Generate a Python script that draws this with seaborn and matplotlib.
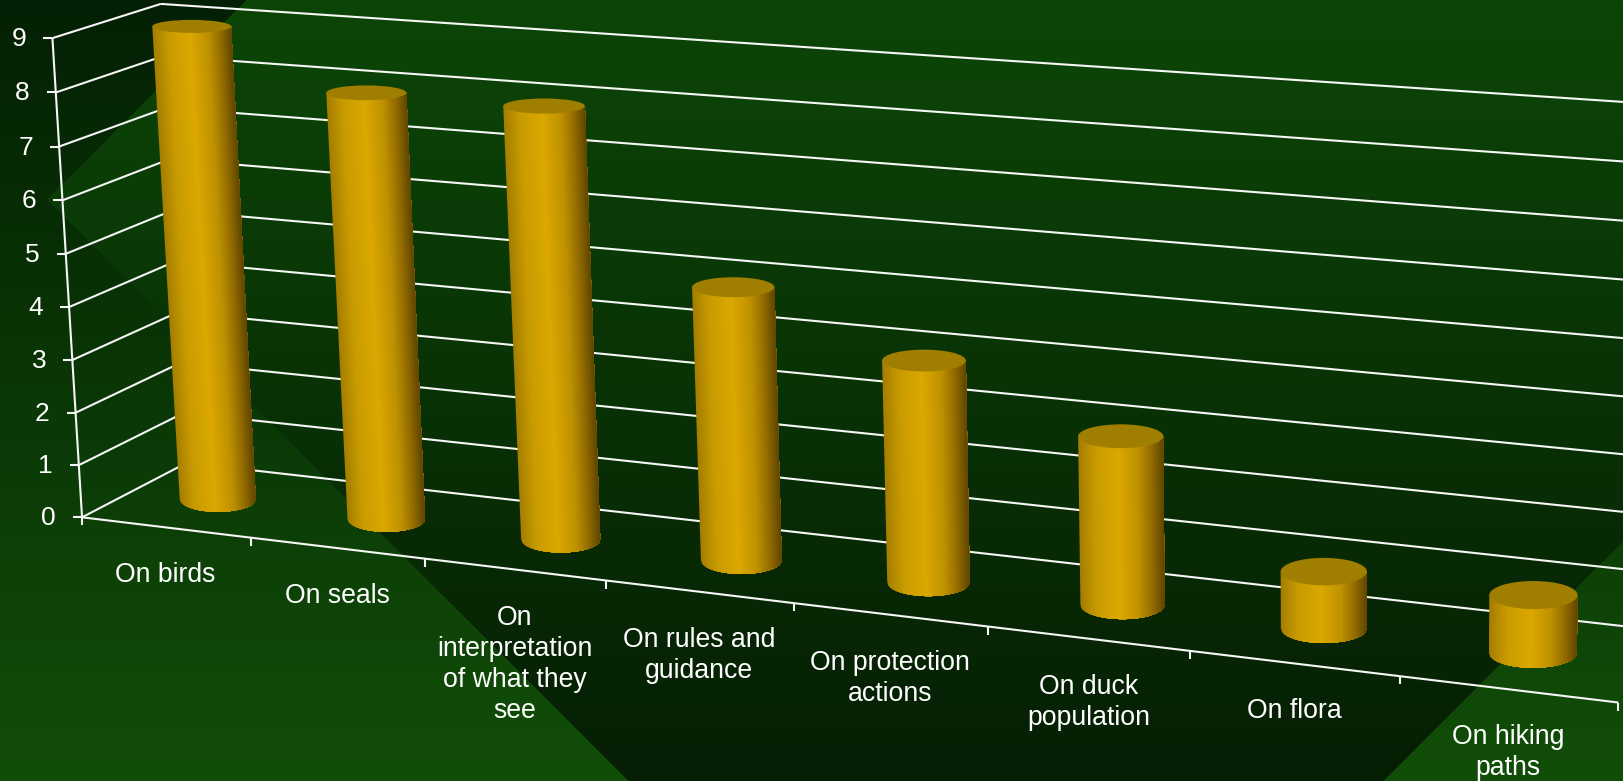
import numpy as np
import matplotlib
matplotlib.use("Agg")
import matplotlib.pyplot as plt
from matplotlib.collections import PolyCollection
from matplotlib.patches import Ellipse
from matplotlib.transforms import Transform, Affine2D
import seaborn as sns

categories = ["On birds", "On seals", "On\ninterpretation\nof what they\nsee", "On rules and\nguidance",
              "On protection\nactions", "On duck\npopulation", "On flora", "On hiking\npaths"]
values = [9, 8, 8, 5, 4, 3, 1, 1]
y_ticks = list(range(10))

W, H = 1624, 781
BAR_WIDTH = 0.44
BAR_DEPTH = 0.5

# camera calibration: (category position, depth, value) -> pixel
cal_world = np.array([[0,0,0],[0,0,9],[1,0,0],[2,0,0],[7,0,0],[8,0,0],[0,1,0],[0,1,9],
                      [.5,.5,0],[.5,.5,9],[1.5,.5,0],[1.5,.5,8],[2.5,.5,0],[2.5,.5,8],
                      [3.5,.5,0],[3.5,.5,5],[4.5,.5,0],[4.5,.5,4],[5.5,.5,0],[5.5,.5,3],
                      [6.5,.5,0],[6.5,.5,1],[7.5,.5,0],[7.5,.5,1],
                      [8,1,0],[8,1,9]], float)
cal_pix = np.array([[83,517],[51,35],[251,540],[425,560],[1400,677],[1620,703],[187,466],[160,4],
                    [218,498],[191.5,25.5],[385.5,517],[367,92],[559,535],[547,108.7],
                    [740,556],[735,293],[927,580],[926,364.5],[1121,603],[1122.7,440],
                    [1322,628],[1323.5,572],[1531,652],[1533,595],
                    [1666,632],[1666,101]], float)
A, b = [], []
for (X, Y, Z), (u, v) in zip(cal_world, cal_pix):
    A.append([X, Y, Z, 1, 0, 0, 0, 0, -u*X, -u*Y, -u*Z]); b.append(u)
    A.append([0, 0, 0, 0, X, Y, Z, 1, -v*X, -v*Y, -v*Z]); b.append(v)
P = np.append(np.linalg.lstsq(np.array(A), np.array(b), rcond=None)[0], 1).reshape(3, 4)


def project(x, d, z):
    x, d, z = np.broadcast_arrays(np.asarray(x, float), np.asarray(d, float), np.asarray(z, float))
    q = P @ np.stack([x, d, z, np.ones_like(x)])
    return q[0] / q[2], q[1] / q[2]


class Plane(Transform):
    """Maps chart data (category, value) or (depth, value) to display pixels."""
    input_dims = output_dims = 2

    def __init__(self, mode, plane_depth=0.0):
        super().__init__()
        self.mode, self.plane_depth = mode, plane_depth

    def transform_non_affine(self, pts):
        pts = np.asarray(pts, float)
        if self.mode == "x":
            u, v = project(pts[:, 0], np.full(len(pts), self.plane_depth), pts[:, 1])
        else:
            u, v = project(np.zeros(len(pts)), pts[:, 0], pts[:, 1])
        return np.column_stack([u, H - v])


pixel = Affine2D().scale(1, -1).translate(0, H)

sns.set_theme(style="white")
plt.rcParams["font.family"] = ["Liberation Sans", "DejaVu Sans"]
fig = plt.figure(figsize=(W / 100, H / 100), dpi=100)

# background: diamond with reversed vertical gradient
yy, xx = np.mgrid[0:H, 0:W]
t = (yy / (H - 1))[..., None]
outside = np.array([4, 32, 4]) * (1 - t) + np.array([17, 78, 8]) * t
inside = np.array([12, 70, 7]) * (1 - t) + np.array([6, 30, 4]) * t
mask = ((xx + yy >= 246) & (yy - xx <= 152) & (xx + yy <= 2163))[..., None]
fig.figimage(np.where(mask, inside, outside) / 255, zorder=-1, origin="upper")

ax = fig.add_axes([0, 0, 1, 1])
ax.patch.set_alpha(0)
sns.barplot(x=categories, y=values, color="#dba800", width=BAR_WIDTH, ax=ax)
ax.set_xlim(-0.5, 7.5)
ax.set_ylim(0, 9)
ax.axis("off")

front = Plane("x", 0.0)
back = Plane("x", 1.0)
side = Plane("d")
LINE = dict(color="#f6f6f6", lw=1.5, solid_capstyle="butt", scalex=False, scaley=False)
for v in y_ticks:
    ax.plot([0, 8], [v, v], transform=back, zorder=2, **LINE)
    ax.plot([0, 1], [v, v], transform=side, zorder=2, **LINE)
    u0, v0 = project(0, 0, v)
    ax.plot([u0 - 9, u0], [v0, v0], transform=pixel, zorder=2, **LINE)
    ax.text(float(u0) - 26, float(v0) - 1.5, str(v), transform=pixel, ha="right", va="center_baseline",
            color="white", fontsize=19, zorder=5)
ax.plot([0, 0], [0, 9], transform=side, zorder=3, **LINE)
ax.plot([0, 8], [0, 0], transform=front, zorder=3, **LINE)
for k in range(9):
    u0, v0 = project(k, 0, 0)
    ax.plot([u0, u0], [v0, v0 + 8], transform=pixel, zorder=2, **LINE)

# gradient across the cylinder width
stops_u = [0, .2, .47, .7, .85, 1]
stops_c = np.array([[165, 125, 0], [200, 155, 0], [220, 168, 0], [190, 145, 0], [150, 110, 0], [95, 70, 0]]) / 255


def semi(cy):
    return 6.5 + 0.0132 * (cy - 25)


def px_width(cx, val, w):
    return w / BAR_WIDTH * (76 + 0.009 * (cx - 218) + 3 * val / 9)


for i, patch in enumerate(list(ax.patches)):
    patch.set_visible(False)
    xc, w, val = patch.get_x() + patch.get_width() / 2 + 0.5, patch.get_width(), patch.get_height()
    tx, ty = map(float, project(xc, BAR_DEPTH, val))
    bx, by = map(float, project(xc, BAR_DEPTH, 0))
    tw, bw = px_width(tx, val, w), px_width(bx, 0, w)
    ts, bs = semi(ty), semi(by)
    n = 80
    us = np.linspace(0, 1, n + 1)
    polys, cols = [], []
    # each strip runs to the right edge, so later strips paint over earlier ones with no seams
    for a, c in zip(us[:-1], us[1:]):
        m = (a + c) / 2
        low = us[us >= a]
        bottom = [(bx - bw / 2 + q * bw, by + bs * np.sqrt(max(0, 1 - (2 * q - 1) ** 2))) for q in low]
        polys.append([(tx - tw / 2 + a * tw, ty), (tx + tw / 2, ty)] + bottom[::-1])
        cols.append([np.interp(m, stops_u, stops_c[:, j]) for j in range(3)])
    pc = PolyCollection(polys, facecolors=cols, edgecolors="none", linewidths=0, transform=pixel, zorder=4)
    ax.add_collection(pc, autolim=False)
    ax.add_patch(Ellipse((tx, ty), tw, 2 * ts, facecolor="#a07e00", edgecolor="none",
                         transform=pixel, zorder=4.5))
    # category label hangs below the axis under the bar position
    u0, v0 = project(i + 0.5, 0, 0)
    ax.text(float(u0), float(v0) + 35, categories[i], transform=pixel, ha="center", va="top", color="white",
            fontsize=19.2, linespacing=1.26, zorder=5, multialignment="center")

fig.savefig("out.png", dpi=100, facecolor="#0e4808")
